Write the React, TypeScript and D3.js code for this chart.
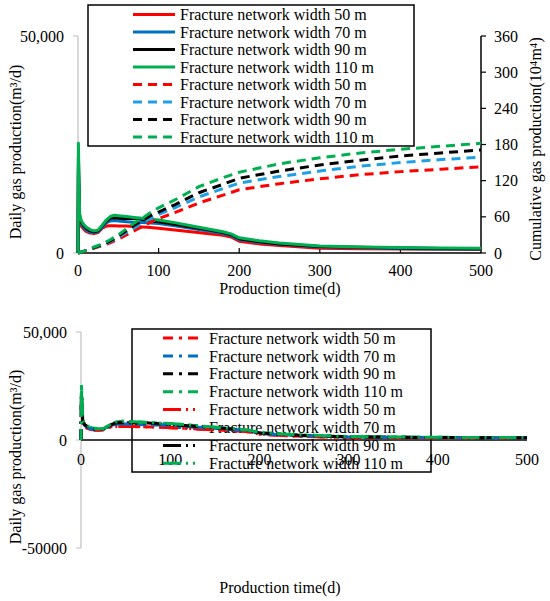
import * as d3 from 'd3';
import React from 'react';

// daily gas production (m3/d)
const dayTimes = [0, 0.5, 2, 4, 7, 10, 15, 20, 25, 30, 35, 40, 45, 50, 60, 70, 80, 90, 100, 120, 140, 160, 180, 190, 200, 225, 250, 300, 350, 400, 450, 500];
const daily50 = [0, 18000, 7400, 6200, 5500, 5000, 4600, 4500, 4700, 5700, 6200, 6300, 6300, 6200, 6200, 6100, 6000, 5900, 5700, 5300, 4900, 4500, 4100, 3700, 2700, 2100, 1700, 1100, 1000, 900, 850, 800];
const daily70 = [0, 20000, 8000, 6700, 5900, 5300, 4800, 4700, 4900, 5900, 6900, 7400, 7500, 7400, 7200, 7100, 7000, 6900, 6800, 6300, 5700, 5100, 4500, 4000, 3100, 2400, 2000, 1400, 1200, 1050, 950, 900];
const daily90 = [0, 22000, 8600, 7100, 6300, 5700, 5100, 4900, 5100, 6200, 7300, 8000, 8100, 8000, 7900, 8000, 7700, 7400, 7200, 6600, 6000, 5400, 4700, 4200, 3300, 2600, 2100, 1500, 1300, 1150, 1050, 1000];
const daily110 = [0, 25300, 9000, 7500, 6600, 6000, 5400, 5100, 5300, 6400, 7600, 8400, 8700, 8600, 8400, 8200, 8000, 7800, 7600, 7000, 6300, 5600, 4900, 4400, 3500, 2800, 2300, 1600, 1400, 1250, 1150, 1100];

// cumulative gas production (10^4 m3)
const cumTimes = [0, 10, 20, 30, 40, 50, 60, 70, 80, 90, 100, 120, 150, 180, 200, 250, 300, 350, 400, 450, 500];
const cum50 = [0, 3, 8, 12, 17, 23, 30, 37, 44, 51, 57, 67, 83, 96, 105, 115, 123, 130, 135, 139, 143];
const cum70 = [0, 4, 9, 13, 19, 26, 34, 42, 50, 57, 64, 75, 93, 107, 116, 127, 136, 144, 150, 155, 159];
const cum90 = [0, 4, 9, 14, 20, 28, 37, 46, 54, 62, 68, 80, 100, 114, 124, 136, 146, 154, 161, 166, 171];
const cum110 = [0, 4, 10, 15, 22, 30, 40, 50, 58, 67, 75, 88, 110, 125, 134, 148, 158, 166, 172, 177, 182];

const widthLabels = ['Fracture network width 50 m', 'Fracture network width 70 m', 'Fracture network width 90 m', 'Fracture network width 110 m'];
const xTicks = [0, 100, 200, 300, 400, 500];
const rightTicks = [0, 60, 120, 180, 240, 300, 360];

const solidColours = ['#ff0000', '#0070c0', '#000000', '#00b050'];
const dashColours = ['#ff0000', '#1ea0e6', '#000000', '#00b050'];
const font = 'Liberation Serif, Times New Roman, serif';

type Pt = [number, number];
const zip = (xs: number[], ys: number[]): Pt[] => xs.map((x, i) => [x, ys[i]] as Pt);

const dailySeries = [daily50, daily70, daily90, daily110];
const cumSeries = [cum50, cum70, cum90, cum110];

function TopChart() {
    const x = d3.scaleLinear().domain([0, 500]).range([78, 481]);
    const yL = d3.scaleLinear().domain([0, 50000]).range([253, 36]);
    const yR = d3.scaleLinear().domain([0, 360]).range([253, 36]);
    const lineL = d3.line<Pt>().x(d => x(d[0])).y(d => yL(d[1]));
    const lineR = d3.line<Pt>().x(d => x(d[0])).y(d => yR(d[1]));

    const legendItems = [
        ...widthLabels.map((t, i) => ({ t, c: solidColours[i], dash: undefined as string | undefined })),
        ...widthLabels.map((t, i) => ({ t, c: dashColours[i], dash: '9,6' })),
    ];

    return (
        <g fontFamily={font} fontSize={16}>
            {/* left axis */}
            <line x1={78} x2={78} y1={36} y2={253} stroke="#bfbfbf" strokeWidth={1.2} />
            {[0, 50000].map(v => (
                <g key={v}>
                    <line x1={73} x2={78} y1={yL(v)} y2={yL(v)} stroke="#bfbfbf" />
                    <text x={64} y={yL(v)} dy="0.35em" textAnchor="end">{d3.format(',')(v)}</text>
                </g>
            ))}
            <text transform={`translate(21,${152}) rotate(-90)`} textAnchor="middle">Daily gas production(m³/d)</text>

            {/* right axis */}
            <line x1={481} x2={481} y1={36} y2={253} stroke="#000" strokeWidth={1.5} />
            {rightTicks.map(v => (
                <g key={v}>
                    <line x1={481} x2={486} y1={yR(v)} y2={yR(v)} stroke="#000" strokeWidth={1.2} />
                    <text x={494} y={yR(v)} dy="0.35em">{v}</text>
                </g>
            ))}
            <text transform={`translate(541,${149}) rotate(-90)`} textAnchor="middle">Cumulative gas production(10⁴m⁴)</text>

            {/* x axis */}
            <line x1={78} x2={481} y1={253} y2={253} stroke="#000" strokeWidth={1.5} />
            {xTicks.map(v => (
                <g key={v}>
                    {v > 0 && v < 500 && <line x1={x(v)} x2={x(v)} y1={253} y2={248} stroke="#000" strokeWidth={1.2} />}
                    <text x={x(v)} y={270} dy="0.35em" textAnchor="middle">{v}</text>
                </g>
            ))}
            <text x={280} y={288} dy="0.35em" textAnchor="middle">Production time(d)</text>

            {/* data */}
            {dailySeries.map((s, i) => (
                <path key={'d' + i} d={lineL(zip(dayTimes, s)) || ''} fill="none" stroke={solidColours[i]} strokeWidth={3} strokeLinejoin="round" />
            ))}
            {cumSeries.map((s, i) => (
                <path key={'c' + i} d={lineR(zip(cumTimes, s)) || ''} fill="none" stroke={dashColours[i]} strokeWidth={3} strokeDasharray="9,6" />
            ))}

            {/* legend */}
            <rect x={88} y={5} width={326} height={141} fill="#fff" stroke="#000" strokeWidth={1.5} />
            {legendItems.map((it, i) => {
                const ly = 14.5 + i * 17.5;
                return (
                    <g key={'l' + i}>
                        <line x1={133} x2={175} y1={ly} y2={ly} stroke={it.c} strokeWidth={3} strokeDasharray={it.dash} />
                        <text x={180} y={ly} dy="0.35em">{it.t}</text>
                    </g>
                );
            })}
        </g>
    );
}

function BottomChart() {
    const x = d3.scaleLinear().domain([0, 500]).range([81, 527]);
    const y = d3.scaleLinear().domain([-50000, 50000]).range([548, 332]);
    const line = d3.line<Pt>().x(d => x(d[0])).y(d => y(d[1]));
    const dashDot = '10,6,3,6';
    const dashDotDot = '18,5,2,5,2,5';

    const legendItems = [
        ...widthLabels.map((t, i) => ({ t, c: solidColours[i], dash: dashDot })),
        ...widthLabels.map((t, i) => ({ t, c: solidColours[i], dash: dashDotDot })),
    ];

    return (
        <g fontFamily={font} fontSize={16}>
            <line x1={81} x2={81} y1={332} y2={548} stroke="#bfbfbf" strokeWidth={1.2} />
            {[50000, 0, -50000].map(v => (
                <g key={v}>
                    <line x1={76} x2={81} y1={y(v)} y2={y(v)} stroke="#bfbfbf" />
                    <text x={67} y={y(v)} dy="0.35em" textAnchor="end">{v > 0 ? d3.format(',')(v) : String(v)}</text>
                </g>
            ))}
            <text transform={`translate(21,${457}) rotate(-90)`} textAnchor="middle">Daily gas production(m³/d)</text>

            <line x1={81} x2={527} y1={440} y2={440} stroke="#000" strokeWidth={1.5} />
            {xTicks.map(v => (
                <text key={v} x={x(v)} y={459} dy="0.35em" textAnchor="middle">{v}</text>
            ))}
            <text x={280} y={587} dy="0.35em" textAnchor="middle">Production time(d)</text>

            {/* legend (transparent, data drawn over it) */}
            <rect x={132} y={329} width={299} height={143} fill="none" stroke="#000" strokeWidth={1.5} />
            {legendItems.map((it, i) => {
                const ly = 338 + i * 17.9;
                return (
                    <g key={'l' + i}>
                        <line x1={163} x2={199} y1={ly} y2={ly} stroke={it.c} strokeWidth={3} strokeDasharray={it.dash} />
                        <text x={209} y={ly} dy="0.35em">{it.t}</text>
                    </g>
                );
            })}

            {dailySeries.map((s, i) => (
                <path key={'a' + i} d={line(zip(dayTimes, s)) || ''} fill="none" stroke={solidColours[i]} strokeWidth={3} strokeDasharray={dashDot} />
            ))}
            {dailySeries.map((s, i) => (
                <path key={'b' + i} d={line(zip(dayTimes, s)) || ''} fill="none" stroke={solidColours[i]} strokeWidth={3} strokeDasharray={dashDotDot} strokeDashoffset={7} />
            ))}
        </g>
    );
}

export default function App() {
    return (
        <svg width={550} height={601} style={{ display: 'block', position: 'absolute', left: 0, top: 0, background: '#fff' }}>
            <rect width={550} height={601} fill="#fff" />
            <TopChart />
            <BottomChart />
        </svg>
    );
}
